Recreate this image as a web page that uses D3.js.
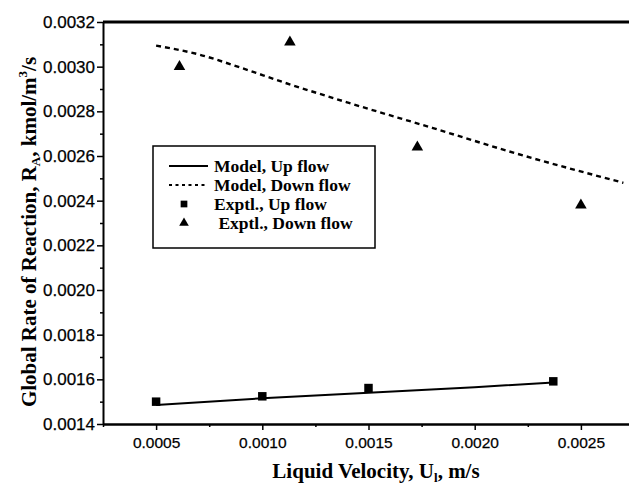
<!DOCTYPE html>
<html>
<head>
<meta charset="utf-8">
<script src="https://cdn.jsdelivr.net/npm/d3@7"></script>
<style>
  html, body { margin: 0; padding: 0; background: #fff; }
  svg { display: block; }
  .tick text { font-family: "Liberation Sans", Arial, sans-serif; fill: #000; stroke: #000; stroke-width: 0.25px; }
  .title { font-family: "Liberation Serif", "Times New Roman", serif; font-weight: bold; fill: #000; }
  .legend text { font-family: "Liberation Serif", "Times New Roman", serif; font-weight: bold; font-size: 17.5px; fill: #000; }
</style>
</head>
<body>
<svg id="chart" width="629" height="487"></svg>
<script>
// Liquid velocity (m/s) vs global rate of reaction (kmol/m^3/s)
const xTicks = [0.0005, 0.0010, 0.0015, 0.0020, 0.0025];
const yTicks = [0.0014, 0.0016, 0.0018, 0.0020, 0.0022, 0.0024, 0.0026, 0.0028, 0.0030, 0.0032];

// Model curves
const modelUpX = [0.0005, 0.0010, 0.0015, 0.0020, 0.00237];
const modelUpY = [0.001485, 0.001515, 0.001540, 0.001565, 0.001586];
const modelDownX = [0.0005, 0.0007, 0.0009, 0.0011, 0.0014, 0.0018, 0.0022, 0.0027];
const modelDownY = [0.003094, 0.003055, 0.002995, 0.002930, 0.002840, 0.002726, 0.002610, 0.002480];

// Experimental points
const exptUpX = [0.0005, 0.0010, 0.0015, 0.00237];
const exptUpY = [0.00150, 0.001524, 0.001561, 0.001591];
const exptDownX = [0.00061, 0.00113, 0.00173, 0.0025];
const exptDownY = [0.00300, 0.00311, 0.00264, 0.00238];

const legendLabels = ["Model, Up flow", "Model, Down flow", "Exptl., Up flow", " Exptl., Down flow"];

const svg = d3.select("#chart");
const L = 103, T = 22, B = 424, R = 634;

const x = d3.scaleLinear().domain([0.00025, 0.00275]).range([L, R]);
const y = d3.scaleLinear().domain([0.0014, 0.0032]).range([B, T]);
const fmt = d3.format(".4f");

// minor ticks
const xMinor = d3.range(0.00025, 0.00276, 0.00025).filter(v => !xTicks.some(t => Math.abs(t - v) < 1e-9));
const yMinor = d3.range(0.0015, 0.0032, 0.0002);

const g = svg.append("g");

// x axis
const xAxis = g.append("g").attr("transform", `translate(0,${B})`)
  .call(d3.axisBottom(x).tickValues(xTicks).tickFormat(fmt).tickSizeInner(6).tickSizeOuter(0).tickPadding(7));
xAxis.select(".domain").attr("stroke", "#000").attr("stroke-width", 2.5);
xAxis.selectAll(".tick line").attr("stroke-width", 1.5);
xAxis.selectAll(".tick text").attr("font-size", 15.5);
g.append("g").attr("transform", `translate(0,${B})`)
  .call(d3.axisBottom(x).tickValues(xMinor).tickFormat("").tickSizeInner(3).tickSizeOuter(0))
  .call(a => a.select(".domain").remove())
  .selectAll(".tick line").attr("stroke-width", 1.5);

// y axis
const yAxis = g.append("g").attr("transform", `translate(${L},0)`)
  .call(d3.axisLeft(y).tickValues(yTicks).tickFormat(fmt).tickSizeInner(6).tickSizeOuter(0).tickPadding(2));
yAxis.select(".domain").attr("stroke", "#000").attr("stroke-width", 2);
yAxis.selectAll(".tick line").attr("stroke-width", 1.5);
yAxis.selectAll(".tick text").attr("font-size", 17);
g.append("g").attr("transform", `translate(${L},0)`)
  .call(d3.axisLeft(y).tickValues(yMinor).tickFormat("").tickSizeInner(3).tickSizeOuter(0))
  .call(a => a.select(".domain").remove())
  .selectAll(".tick line").attr("stroke-width", 1.5);

// top and right frame
g.append("line").attr("x1", L).attr("x2", R).attr("y1", T).attr("y2", T)
  .attr("stroke", "#000").attr("stroke-width", 3);
g.append("line").attr("x1", R).attr("x2", R).attr("y1", T).attr("y2", B)
  .attr("stroke", "#000").attr("stroke-width", 2);

// model lines
const line = d3.line().x(d => x(d[0])).y(d => y(d[1]));
g.append("path").datum(d3.zip(modelUpX, modelUpY)).attr("d", line)
  .attr("fill", "none").attr("stroke", "#000").attr("stroke-width", 2);
g.append("path").datum(d3.zip(modelDownX, modelDownY))
  .attr("d", d3.line().curve(d3.curveMonotoneX).x(d => x(d[0])).y(d => y(d[1])))
  .attr("fill", "none").attr("stroke", "#000").attr("stroke-width", 2.4).attr("stroke-dasharray", "5,4");

// experimental markers
const sq = d3.symbol().type(d3.symbolSquare).size(72);
const tri = d3.symbol().type(d3.symbolTriangle).size(58);
g.selectAll(".up").data(d3.zip(exptUpX, exptUpY)).join("path")
  .attr("transform", d => `translate(${x(d[0])},${y(d[1])})`).attr("d", sq).attr("fill", "#000");
g.selectAll(".down").data(d3.zip(exptDownX, exptDownY)).join("path")
  .attr("transform", d => `translate(${x(d[0])},${y(d[1])})`).attr("d", tri).attr("fill", "#000");

// legend
const lg = svg.append("g").attr("class", "legend");
lg.append("rect").attr("x", 153).attr("y", 146).attr("width", 222).attr("height", 102)
  .attr("fill", "#fff").attr("stroke", "#000").attr("stroke-width", 1.5);
const rowY = [166, 185, 204, 223];
lg.append("line").attr("x1", 169).attr("x2", 208).attr("y1", rowY[0]).attr("y2", rowY[0])
  .attr("stroke", "#000").attr("stroke-width", 2);
lg.append("line").attr("x1", 169).attr("x2", 208).attr("y1", rowY[1]).attr("y2", rowY[1])
  .attr("stroke", "#000").attr("stroke-width", 2).attr("stroke-dasharray", "3,3.5");
lg.append("path").attr("transform", `translate(184,${rowY[2]})`).attr("d", d3.symbol().type(d3.symbolSquare).size(45)).attr("fill", "#000");
lg.append("path").attr("transform", `translate(184,${rowY[3]})`).attr("d", d3.symbol().type(d3.symbolTriangle).size(40)).attr("fill", "#000");
lg.selectAll("text.lab").data(legendLabels).join("text").attr("class", "lab")
  .attr("x", 214).attr("y", (d, i) => rowY[i] + 5.5).attr("xml:space", "preserve").text(d => d);

// axis titles
const xt = svg.append("text").attr("class", "title").attr("x", 376).attr("y", 478)
  .attr("text-anchor", "middle").attr("font-size", 21);
xt.append("tspan").text("Liquid Velocity, U");
xt.append("tspan").attr("font-size", 13).attr("dy", 4).text("l");
xt.append("tspan").attr("dy", -4).text(", m/s");

const yt = svg.append("text").attr("class", "title")
  .attr("transform", `translate(36,232) rotate(-90)`)
  .attr("text-anchor", "middle").attr("font-size", 21);
yt.append("tspan").text("Global Rate of Reaction, R");
yt.append("tspan").attr("font-size", 13).attr("dy", 4).text("A");
yt.append("tspan").attr("dy", -4).text(", kmol/m");
yt.append("tspan").attr("font-size", 13).attr("dy", -9).text("3");
yt.append("tspan").attr("dy", 9).text("/s");
</script>
</body>
</html>
